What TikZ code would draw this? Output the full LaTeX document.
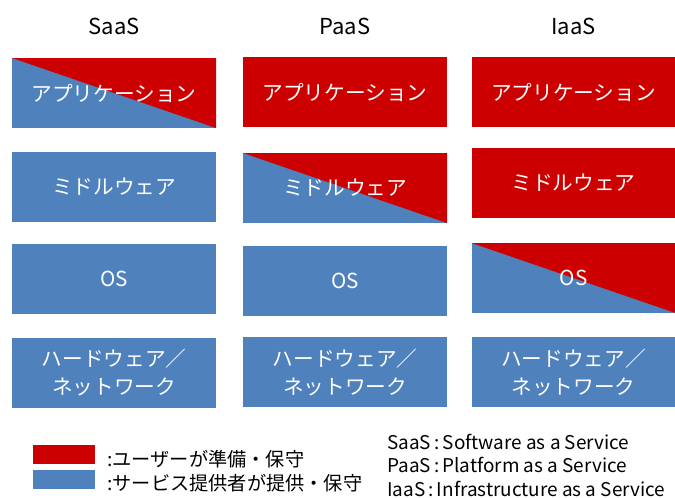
\documentclass[tikz,border=0pt]{standalone}
\usepackage{fontspec}
\setmainfont{Noto Sans CJK JP}
\usepackage{tikz}
\usetikzlibrary{positioning}

\definecolor{userred}{HTML}{CC0000}
\definecolor{provblue}{HTML}{4F81BD}

\begin{document}
\begin{tikzpicture}[x=0.75pt,y=-0.75pt,
		layer/.style={minimum width=153pt,minimum height=52.5pt,inner sep=0pt,outer sep=0pt,
			text=white,align=center,font=\fontsize{15.5}{21}\selectfont},
		user/.style={layer,fill=userred},
		prov/.style={layer,fill=provblue},
		shared/.style={layer,fill=provblue,path picture={
				\fill[userred] (path picture bounding box.north west) -- (path picture bounding box.north east)
				-- (path picture bounding box.south east) -- cycle;}},
		title/.style={font=\fontsize{16.5}{18}\selectfont},
		key/.style={minimum width=46.5pt,minimum height=14.25pt,inner sep=0pt},
		keytext/.style={anchor=west,inner sep=0pt,font=\fontsize{14.4}{16}\selectfont},
		note/.style={anchor=west,inner sep=0pt,font=\fontsize{14.2}{15}\selectfont}]
		
		\useasboundingbox (0,0) rectangle (675,497);
		
		% column headings
		\foreach \name/\x in {SaaS/114,PaaS/345,IaaS/573.5}{
			\node[title] (title-\name) at (\x,26) {\name};
		}
		
		% SaaS stack
		\node[shared] (saas-app) at (114,93)    {アプリケーション};
		\node[prov]   (saas-mw)  at (114,186.5) {ミドルウェア};
		\node[prov]   (saas-os)  at (114,279)   {OS};
		\node[prov]   (saas-hw)  at (114,372.7) {ハードウェア／\\ネットワーク};
		
		% PaaS stack
		\node[user]   (paas-app) at (345,92.2)  {アプリケーション};
		\node[shared] (paas-mw)  at (345,188)   {ミドルウェア};
		\node[prov]   (paas-os)  at (345,281)   {OS};
		\node[prov]   (paas-hw)  at (345,372.2) {ハードウェア／\\ネットワーク};
		
		% IaaS stack
		\node[user]   (iaas-app) at (573.5,92.2)  {アプリケーション};
		\node[user]   (iaas-mw)  at (573.5,182.5) {ミドルウェア};
		\node[shared] (iaas-os)  at (573.5,278)   {OS};
		\node[prov]   (iaas-hw)  at (573.5,372.2) {ハードウェア／\\ネットワーク};
		
		% legend
		\node[key,fill=userred]  (key-user) at (64,454.5) {};
		\node[key,fill=provblue] (key-prov) at (64,479.5) {};
		\node[keytext] (key-user-text) at (107,459) {:ユーザーが準備・保守};
		\node[keytext] (key-prov-text) at (107,483) {:サービス提供者が提供・保守};
		
		% abbreviations
		\node[note] (note-saas) at (387,442) {SaaS\,:\,Software as a Service};
		\node[note] (note-paas) at (387,465) {PaaS\,:\,Platform as a Service};
		\node[note] (note-iaas) at (387,489) {IaaS\,:\,Infrastructure as a Service};
		
	\end{tikzpicture}
\end{document}
